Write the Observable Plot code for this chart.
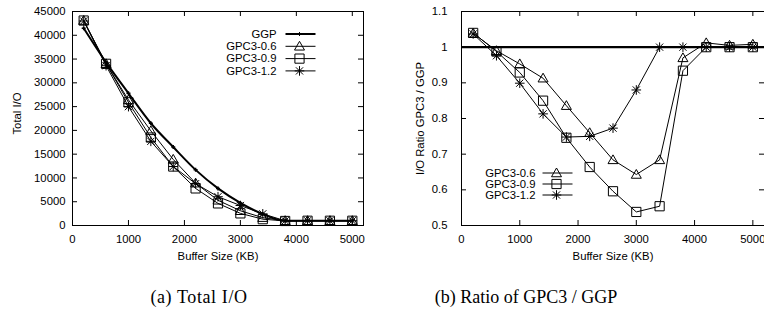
<!DOCTYPE html>
<html>
<head>
<meta charset="utf-8">
<script src="https://cdn.jsdelivr.net/npm/d3@7"></script>
<script src="https://cdn.jsdelivr.net/npm/@observablehq/plot@0.6"></script>
<style>
html,body{margin:0;padding:0;background:#fff;overflow:hidden}
#wrap{position:relative;width:764px;height:325px;overflow:hidden}
.panel{position:absolute;top:0}
.cap{position:absolute;top:287px;font-family:"Liberation Serif",serif;font-size:18px;line-height:20px;color:#000;white-space:nowrap;transform:translateX(-50%)}
</style>
</head>
<body>
<div id="wrap">
  <div id="left" class="panel" style="left:0px"></div>
  <div id="right" class="panel" style="left:380px"></div>
  <div class="cap" style="left:199px;letter-spacing:0.6px">(a) Total I/O</div>
  <div class="cap" style="left:526px">(b) Ratio of GPC3 / GGP</div>
</div>
<script>
// ---- data ----
const bufferSizes = [200, 600, 1000, 1400, 1800, 2200, 2600, 3000, 3400, 3800, 4200, 4600, 5000];
const seriesNames = ["GPC3-0.6", "GPC3-0.9", "GPC3-1.2"];

// (a) Total I/O
const totalGGP   = [41500, 34300, 27800, 21500, 16500, 11700, 7800, 4750, 2400, 1000, 1000, 1000, 1000];
const totalGPC06 = [43100, 34000, 26400, 19900, 13900, 8900, 5300, 3100, 1650, 1000, 1000, 1000, 1000];
const totalGPC09 = [43100, 34000, 25900, 18500, 12400, 7800, 4650, 2550, 1330, 950, 1000, 1000, 1000];
const totalGPC12 = [43000, 33600, 25000, 17700, 12400, 8800, 6050, 4200, 2450, 1000, 1000, 1000, 1000];

// (b) Ratio GPC3 / GGP
const ratioGGP   = [1];
const ratioGPC06 = [1.039, 0.99, 0.953, 0.913, 0.836, 0.76, 0.684, 0.643, 0.684, 0.97, 1.012, 1.005, 1.008];
const ratioGPC09 = [1.04, 0.988, 0.929, 0.85, 0.746, 0.664, 0.596, 0.538, 0.554, 0.934, 1.0, 1.0, 1.0];
const ratioGPC12 = [1.037, 0.976, 0.899, 0.813, 0.748, 0.75, 0.773, 0.88, 1.0, 1.0, 1.0, 1.0, 1.0];

// ticks
const xTicks = [0, 1000, 2000, 3000, 4000, 5000];
const yTicksTotal = [0, 5000, 10000, 15000, 20000, 25000, 30000, 35000, 40000, 45000];
const yTicksRatio = [0.5, 0.6, 0.7, 0.8, 0.9, 1, 1.1];
const xLabel = "Buffer Size (KB)";

// ---- symbols (gnuplot-like) ----
const triangleSym = {draw(c, size) { const r = Math.sqrt(size / Math.PI);
  c.moveTo(0, -r); c.lineTo(r, r * 0.75); c.lineTo(-r, r * 0.75); c.closePath(); }};
const squareSym = {draw(c, size) { const r = Math.sqrt(size / Math.PI); c.rect(-r, -r, 2 * r, 2 * r); }};
const starSym = {draw(c, size) { const r = Math.sqrt(size / Math.PI), d = r * 0.75;
  c.moveTo(-r, 0); c.lineTo(r, 0); c.moveTo(0, -r); c.lineTo(0, r);
  c.moveTo(-d, -d); c.lineTo(d, d); c.moveTo(-d, d); c.lineTo(d, -d); }};
const plusSym = {draw(c, size) { const r = Math.sqrt(size / Math.PI);
  c.moveTo(-r, 0); c.lineTo(r, 0); c.moveTo(0, -r); c.lineTo(0, r); }};
const sampleSym = {draw(c) { c.moveTo(-15, 0); c.lineTo(15, 0); }};
const seriesSymbols = [triangleSym, squareSym, starSym];
const seriesR = [5, 4.6, 4.8];

const rows = (ys) => bufferSizes.map((x, i) => ({x, y: ys[i]}));

function panel({width, marginLeft, marginRight, yDomain, yTicks, yLabel, yLabelDx, yLabelDy, yTickPadding, extra, series, legend}) {
  const H = 270, mt = 11, mb = 45;
  const innerW = width - marginLeft - marginRight, innerH = H - mt - mb, tk = 5;
  const marks = [
    Plot.ruleX(xTicks, {x: d => d, insetTop: innerH - tk, stroke: "black"}),
    Plot.ruleX(xTicks, {x: d => d, insetBottom: innerH - tk, stroke: "black"}),
    Plot.ruleY(yTicks, {y: d => d, insetRight: innerW - tk, stroke: "black"}),
    Plot.ruleY(yTicks, {y: d => d, insetLeft: innerW - tk, stroke: "black"}),
    Plot.axisX({ticks: xTicks, tickSize: 0, tickPadding: 9, tickFormat: d => String(d), label: null}),
    Plot.axisY({ticks: yTicks, tickSize: 0, tickPadding: yTickPadding, tickFormat: d => String(d), label: null}),
    Plot.text([xLabel], {text: d => d, frameAnchor: "bottom", dy: 31, textAnchor: "middle", lineAnchor: "middle"}),
    Plot.text([yLabel], {text: d => d, frameAnchor: "left", dx: yLabelDx, dy: yLabelDy, rotate: -90, textAnchor: "middle", lineAnchor: "middle"}),
    ...extra
  ];
  series.forEach((ys, k) => {
    marks.push(Plot.line(rows(ys), {x: "x", y: "y", stroke: "black", strokeWidth: 1}));
    marks.push(Plot.dot(rows(ys), {x: "x", y: "y", symbol: seriesSymbols[k], r: seriesR[k], fill: "none", stroke: "black", strokeWidth: 1}));
  });
  legend.entries.forEach((e, k) => {
    const dy = legend.dy0 + k * legend.step;
    marks.push(Plot.text([e.name], {text: d => d, frameAnchor: "top-left", dx: legend.textDx, dy, textAnchor: "end", lineAnchor: "middle"}));
    marks.push(Plot.dot([e.name], {frameAnchor: "top-left", dx: legend.sampleDx, dy, symbol: sampleSym, r: 1, fill: "none", stroke: "black", strokeWidth: e.lw}));
    marks.push(Plot.dot([e.name], {frameAnchor: "top-left", dx: legend.sampleDx - 1, dy, symbol: e.sym, r: e.r, fill: "none", stroke: "black", strokeWidth: 1}));
  });
  marks.push(Plot.frame({stroke: "black", strokeWidth: 1}));
  return Plot.plot({
    width, height: H, marginLeft, marginRight, marginTop: mt, marginBottom: mb,
    x: {domain: [0, 5200]}, y: {domain: yDomain},
    style: {fontFamily: "'Liberation Sans', Arial, sans-serif", fontSize: "11.3px", color: "black", background: "white", overflow: "visible"},
    marks
  });
}

const leftPlot = panel({
  width: 380, marginLeft: 72, marginRight: 17,
  yDomain: [0, 45000], yTicks: yTicksTotal, yLabel: "Total I/O", yLabelDx: -55, yLabelDy: -5, yTickPadding: 7,
  extra: [
    Plot.line(rows(totalGGP), {x: "x", y: "y", curve: "monotone-x", stroke: "black", strokeWidth: 2}),
    Plot.dot(rows(totalGGP), {x: "x", y: "y", symbol: plusSym, r: 2, fill: "none", stroke: "black"})
  ],
  series: [totalGPC06, totalGPC09, totalGPC12],
  legend: {textDx: 204, sampleDx: 228, dy0: 22.5, step: 12.3, entries: [
    {name: "GGP", sym: plusSym, r: 2, lw: 2},
    {name: seriesNames[0], sym: triangleSym, r: 5, lw: 1},
    {name: seriesNames[1], sym: squareSym, r: 4.6, lw: 1},
    {name: seriesNames[2], sym: starSym, r: 4.8, lw: 1}
  ]}
});

const rightPlot = panel({
  width: 384, marginLeft: 81, marginRight: 0,
  yDomain: [0.5, 1.1], yTicks: yTicksRatio, yLabel: "I/O Ratio GPC3 / GGP", yLabelDx: -41, yLabelDy: 0, yTickPadding: 14,
  extra: [
    Plot.ruleY(ratioGGP, {y: d => d, stroke: "black", strokeWidth: 2.2})
  ],
  series: [ratioGPC06, ratioGPC09, ratioGPC12],
  legend: {textDx: 74, sampleDx: 96, dy0: 161.5, step: 11, entries: [
    {name: seriesNames[0], sym: triangleSym, r: 5, lw: 1},
    {name: seriesNames[1], sym: squareSym, r: 4.6, lw: 1},
    {name: seriesNames[2], sym: starSym, r: 4.8, lw: 1}
  ]}
});

document.getElementById("left").appendChild(leftPlot);
document.getElementById("right").appendChild(rightPlot);
</script>
</body>
</html>
